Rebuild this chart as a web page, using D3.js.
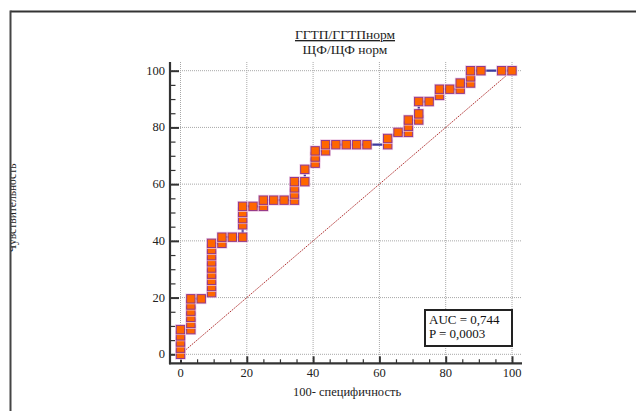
<!DOCTYPE html>
<html>
<head>
<meta charset="utf-8">
<script src="https://cdn.jsdelivr.net/npm/d3@7"></script>
<style>
  body { margin: 0; background: #fff; }
  svg { display: block; }
</style>
</head>
<body>
<div id="chart"></div>
<script>
// 1. Data - ROC points, 100-specificity vs sensitivity
const fpr = [0, 0, 0, 0, 0,
  3.125, 3.125, 3.125, 3.125, 3.125, 3.125,
  6.25,
  9.375, 9.375, 9.375, 9.375, 9.375, 9.375, 9.375, 9.375, 9.375,
  12.5, 12.5, 15.625,
  18.75, 18.75, 18.75, 18.75, 18.75,
  21.875, 25, 25, 28.125, 31.25,
  34.375, 34.375, 34.375, 34.375,
  37.5, 37.5,
  40.625, 40.625, 40.625,
  43.75, 43.75, 46.875, 50, 53.125, 56.25,
  62.5, 62.5, 65.625,
  68.75, 68.75, 68.75,
  71.875, 71.875, 71.875, 75,
  78.125, 78.125, 81.25, 84.375, 84.375,
  87.5, 87.5, 87.5, 90.625, 96.875, 100];
const tpr = [0, 2.17, 4.35, 6.52, 8.70,
  8.70, 10.87, 13.04, 15.22, 17.39, 19.57,
  19.57,
  21.74, 23.91, 26.09, 28.26, 30.43, 32.61, 34.78, 36.96, 39.13,
  39.13, 41.30, 41.30,
  41.30, 45.65, 47.83, 50.00, 52.17,
  52.17, 52.17, 54.35, 54.35, 54.35,
  54.35, 56.52, 58.70, 60.87,
  60.87, 65.22,
  67.39, 69.57, 71.74,
  71.74, 73.91, 73.91, 73.91, 73.91, 73.91,
  73.91, 76.09, 78.26,
  78.26, 80.43, 82.61,
  82.61, 84.78, 89.13, 89.13,
  91.30, 93.48, 93.48, 93.48, 95.65,
  95.65, 97.83, 100, 100, 100, 100];

const ticks = [0, 20, 40, 60, 80, 100];
const minorTicks = d3.range(0, 101, 5).filter(d => d % 20 !== 0);
const titleLines = ["ГГТП/ГГТПнорм", "ЩФ/ЩФ норм"];
const xLabel = "100- специфичность";
const yLabel = "Чувствительность";
const statLines = ["AUC = 0,744", "P = 0,0003"];

const points = fpr.map((d, i) => ({ x: d, y: tpr[i] }));

// 2. SVG
const WIDTH = 636, HEIGHT = 411;
const font = "'Liberation Serif', 'Times New Roman', serif";

const svg = d3.select("#chart").append("svg")
  .attr("width", WIDTH)
  .attr("height", HEIGHT);

svg.append("rect").attr("width", WIDTH).attr("height", HEIGHT).attr("fill", "#fff");

// scales
const x = d3.scaleLinear().domain([0, 100]).range([180.5, 512]);
const y = d3.scaleLinear().domain([0, 100]).range([354.3, 70.7]);

const axisX = 170, axisY = 363.3;   // axes sit a little away from the data area
const gridTop = 62, gridRight = 521;

// 3. Grid (dotted)
svg.append("g").selectAll("line")
  .data(ticks).enter().append("line")
  .attr("x1", d => x(d)).attr("x2", d => x(d))
  .attr("y1", gridTop).attr("y2", axisY)
  .attr("stroke", "#a8a8a8").attr("stroke-width", 1)
  .attr("stroke-dasharray", "1,1");

svg.append("g").selectAll("line")
  .data(ticks).enter().append("line")
  .attr("x1", axisX).attr("x2", gridRight)
  .attr("y1", d => y(d)).attr("y2", d => y(d))
  .attr("stroke", "#a8a8a8").attr("stroke-width", 1)
  .attr("stroke-dasharray", "1,1");

// 4. Axes - ticks point inwards
const xAxis = d3.axisTop(x).tickValues(ticks).tickSize(7).tickFormat("");
const yAxis = d3.axisRight(y).tickValues(ticks).tickSize(9).tickFormat("");

svg.append("g").attr("transform", `translate(0,${axisY})`).call(xAxis)
  .call(g => g.select(".domain").remove())
  .selectAll("line").attr("stroke", "#333").attr("stroke-width", 2);
svg.append("g").attr("transform", `translate(0,${axisY})`)
  .call(d3.axisTop(x).tickValues(minorTicks).tickSize(4).tickFormat(""))
  .call(g => g.select(".domain").remove())
  .selectAll("line").attr("stroke", "#333").attr("stroke-width", 1.2);

svg.append("g").attr("transform", `translate(${axisX},0)`).call(yAxis)
  .call(g => g.select(".domain").remove())
  .selectAll("line").attr("stroke", "#333").attr("stroke-width", 2);
svg.append("g").attr("transform", `translate(${axisX},0)`)
  .call(d3.axisRight(y).tickValues(minorTicks).tickSize(5.5).tickFormat(""))
  .call(g => g.select(".domain").remove())
  .selectAll("line").attr("stroke", "#333").attr("stroke-width", 1.2);

// axis lines
svg.append("line").attr("x1", axisX).attr("x2", axisX)
  .attr("y1", gridTop).attr("y2", axisY + 1)
  .attr("stroke", "#333").attr("stroke-width", 2.2);
svg.append("line").attr("x1", axisX - 1).attr("x2", 522)
  .attr("y1", axisY).attr("y2", axisY)
  .attr("stroke", "#333").attr("stroke-width", 2.2);

// tick labels
svg.append("g").selectAll("text")
  .data(ticks).enter().append("text")
  .attr("x", d => x(d)).attr("y", 377)
  .attr("text-anchor", "middle")
  .attr("font-family", font).attr("font-size", "12.5px").attr("fill", "#222")
  .text(d => d);

svg.append("g").selectAll("text")
  .data(ticks).enter().append("text")
  .attr("x", 165).attr("y", d => y(d) + 4)
  .attr("text-anchor", "end")
  .attr("font-family", font).attr("font-size", "12.5px").attr("fill", "#222")
  .text(d => d);

// 5. Reference diagonal
svg.append("line")
  .attr("x1", x(0)).attr("y1", y(0))
  .attr("x2", x(100)).attr("y2", y(100))
  .attr("stroke", "#b03030").attr("stroke-width", 1)
  .attr("stroke-dasharray", "1.5,1");

// 6. ROC curve + square markers
const line = d3.line().x(d => x(d.x)).y(d => y(d.y));
svg.append("path")
  .datum(points)
  .attr("d", line)
  .attr("fill", "none")
  .attr("stroke", "#3d3a9e")
  .attr("stroke-width", 2.2);

const markers = svg.append("g").selectAll("g")
  .data(points).enter().append("g")
  .attr("transform", d => `translate(${x(d.x)},${y(d.y)})`);

markers.append("rect") // soft pink halo
  .attr("x", -5).attr("y", -5).attr("width", 10).attr("height", 10)
  .attr("fill", "none").attr("stroke", "#f0cfe6").attr("stroke-width", 0.8);
markers.append("rect")
  .attr("x", -4.2).attr("y", -4.2).attr("width", 8.4).attr("height", 8.4)
  .attr("fill", "#ff6600").attr("stroke", "#93398a").attr("stroke-width", 1);

// 7. Titles
svg.append("text")
  .attr("x", 345).attr("y", 39)
  .attr("text-anchor", "middle")
  .attr("font-family", font).attr("font-size", "13.5px").attr("fill", "#222")
  .attr("text-decoration", "underline")
  .text(titleLines[0]);
svg.append("text")
  .attr("x", 345).attr("y", 54)
  .attr("text-anchor", "middle")
  .attr("font-family", font).attr("font-size", "13.5px").attr("fill", "#222")
  .text(titleLines[1]);

svg.append("text")
  .attr("x", 347).attr("y", 396)
  .attr("text-anchor", "middle")
  .attr("font-family", font).attr("font-size", "12.5px").attr("fill", "#222")
  .text(xLabel);

// y label is mostly hidden behind the frame on the left
svg.append("text")
  .attr("transform", "translate(15.5,208) rotate(-90)")
  .attr("text-anchor", "middle")
  .attr("font-family", font).attr("font-size", "11.5px").attr("fill", "#222")
  .text(yLabel);
svg.append("rect").attr("x", 0).attr("y", 0).attr("width", 11).attr("height", HEIGHT).attr("fill", "#fff");

// 8. AUC box
const box = svg.append("g");
box.append("rect")
  .attr("x", 425).attr("y", 310).attr("width", 87).attr("height", 36)
  .attr("fill", "#fff").attr("stroke", "#222").attr("stroke-width", 2);
box.selectAll("text")
  .data(statLines).enter().append("text")
  .attr("x", 429).attr("y", (d, i) => 324 + i * 14)
  .attr("font-family", font).attr("font-size", "13px").attr("fill", "#111")
  .text(d => d);

// 9. Frame (top + left only visible)
svg.append("line").attr("x1", 10.5).attr("x2", WIDTH).attr("y1", 11.5).attr("y2", 11.5)
  .attr("stroke", "#333").attr("stroke-width", 2);
svg.append("line").attr("x1", 10.5).attr("x2", 10.5).attr("y1", 10.5).attr("y2", HEIGHT)
  .attr("stroke", "#444").attr("stroke-width", 2);
</script>
</body>
</html>
